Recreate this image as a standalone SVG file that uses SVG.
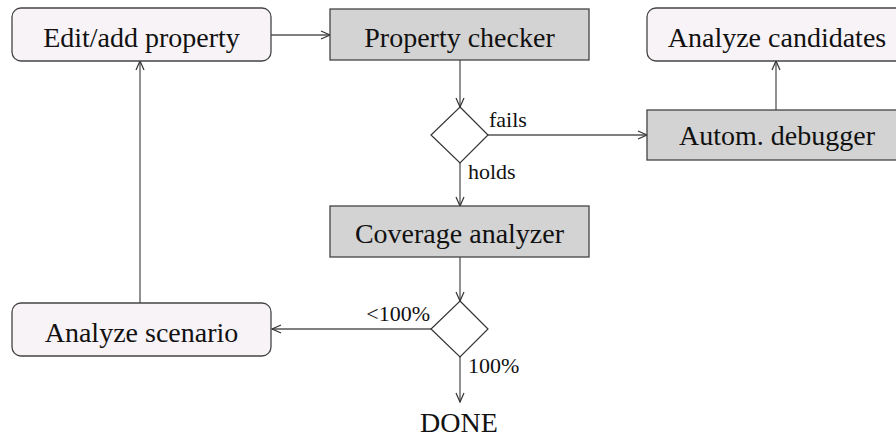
<svg xmlns="http://www.w3.org/2000/svg" width="896" height="438" viewBox="0 0 896 438">
<defs>
<marker id="ah" markerWidth="12" markerHeight="12" refX="10" refY="5" orient="auto" markerUnits="userSpaceOnUse">
<path d="M1,1 L10,5 L1,9" fill="none" stroke="#333" stroke-width="1.2"/>
</marker>
<style>
.rnd{fill:#f8f3f7;stroke:#444;stroke-width:1.3}
.gry{fill:#d3d3d3;stroke:#444;stroke-width:1.3}
.dia{fill:#fff;stroke:#333;stroke-width:1.2}
.t{font-family:"Liberation Serif","Times New Roman",serif;font-size:28px;fill:#111;text-anchor:middle}
.s{font-family:"Liberation Serif","Times New Roman",serif;font-size:22px;fill:#111}
.c{fill:none;stroke:#555;stroke-width:1.3;marker-end:url(#ah)}
</style>
</defs>
<rect width="896" height="438" fill="#fff"/>
<g id="edges">
<line class="c" x1="271" y1="35" x2="330" y2="35"/>
<line class="c" x1="460" y1="60" x2="460" y2="107"/>
<line class="c" x1="488" y1="135" x2="647" y2="135"/>
<line class="c" x1="776" y1="110" x2="776" y2="61"/>
<line class="c" x1="460" y1="163" x2="460" y2="206"/>
<line class="c" x1="460" y1="257" x2="460" y2="301"/>
<line class="c" x1="431" y1="329" x2="272" y2="329"/>
<line class="c" x1="140" y1="303" x2="140" y2="61"/>
<line class="c" x1="460" y1="357" x2="460" y2="402"/>
<text class="s" x="489" y="127">fails</text>
<text class="s" x="468" y="179">holds</text>
<text class="s" x="430" y="321" text-anchor="end">&lt;100%</text>
<text class="s" x="468" y="373">100%</text>
</g>
<g id="edit"><rect class="rnd" x="12" y="8" width="259" height="53" rx="9"/><text class="t" x="141.5" y="47">Edit/add property</text></g>
<g id="checker"><rect class="gry" x="330" y="9" width="259" height="51"/><text class="t" x="459.5" y="47">Property checker</text></g>
<g id="candidates"><rect class="rnd" x="647" y="8" width="259" height="53" rx="9"/><text class="t" x="777" y="47">Analyze candidates</text></g>
<g id="d1"><polygon class="dia" points="460,107 488,135 460,163 431,135"/></g>
<g id="debugger"><rect class="gry" x="647" y="110" width="259" height="50"/><text class="t" x="777" y="145">Autom. debugger</text></g>
<g id="coverage"><rect class="gry" x="330" y="206" width="259" height="51"/><text class="t" x="459.5" y="243">Coverage analyzer</text></g>
<g id="d2"><polygon class="dia" points="460,301 488,329 460,357 431,329"/></g>
<g id="scenario"><rect class="rnd" x="12" y="303" width="259" height="53" rx="9"/><text class="t" x="141.5" y="342">Analyze scenario</text></g>
<g id="done"><text class="t" x="459" y="432">DONE</text></g>
</svg>
